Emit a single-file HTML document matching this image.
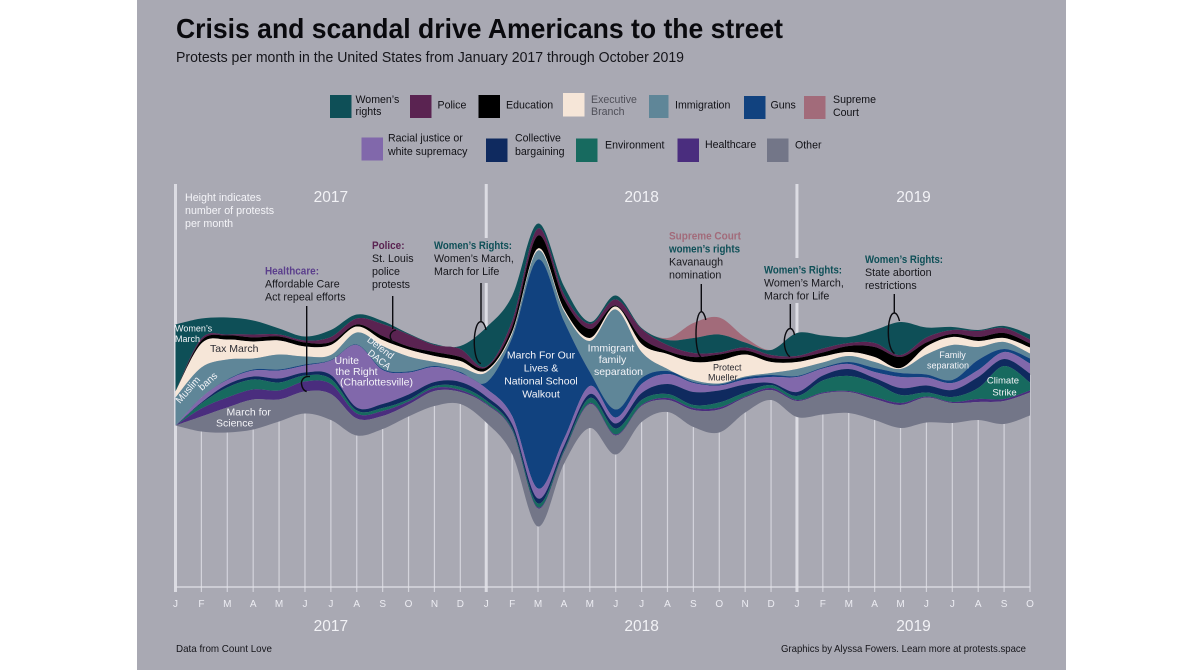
<!DOCTYPE html>
<html lang="en">
<head>
<meta charset="utf-8">
<title>Crisis and scandal drive Americans to the street</title>
<style>
html,body{margin:0;padding:0;background:#fff;width:1200px;height:670px;overflow:hidden}
svg{display:block;font-family:"Liberation Sans",sans-serif}
.w{fill:#f4f4f8}
.d{fill:#17171c}
.n{font-size:11px;fill:#111116}
.b{font-weight:bold}
.t{font-size:10.600px;fill:#111116}
</style>
</head>
<body>
<svg id="chart" width="1200" height="670" viewBox="0 0 1200 670" xmlns="http://www.w3.org/2000/svg">
  <rect x="137" y="0" width="929" height="670" fill="#a9a9b3"/>
  <text x="176" y="38" font-size="27.500" font-weight="bold" fill="#0a0a0e" textLength="607" lengthAdjust="spacingAndGlyphs">Crisis and scandal drive Americans to the street</text>
  <text x="176" y="62" font-size="14.500" fill="#15151a" textLength="508" lengthAdjust="spacingAndGlyphs">Protests per month in the United States from January 2017 through October 2019</text>

  <g>
    <g><rect x="330" y="95" width="21.500" height="23" fill="#0e4f57"/><text class="t" x="355.500" y="103">Women’s</text><text class="t" x="355.500" y="115">rights</text></g>
    <g><rect x="410" y="95" width="21.500" height="23" fill="#5a2351"/><text class="t" x="437.500" y="108.500">Police</text></g>
    <g><rect x="478.500" y="95" width="21.500" height="23" fill="#000"/><text class="t" x="506" y="108.500">Education</text></g>
    <g><rect x="563" y="93" width="21.500" height="23.500" fill="#f6e6d8"/><text class="t" x="591" y="103" style="fill:#4f4f58">Executive</text><text class="t" x="591" y="115" style="fill:#4f4f58">Branch</text></g>
    <g><rect x="649" y="95" width="19.500" height="23" fill="#5f8698"/><text class="t" x="675" y="108.500">Immigration</text></g>
    <g><rect x="744" y="96" width="21.500" height="23" fill="#11427f"/><text class="t" x="770.500" y="108.500">Guns</text></g>
    <g><rect x="804" y="96" width="21.500" height="23" fill="#a26b7a"/><text class="t" x="833" y="103">Supreme</text><text class="t" x="833" y="116">Court</text></g>
    <g><rect x="361.500" y="137.500" width="21.500" height="23" fill="#8168ab"/><text class="t" x="388" y="141.500">Racial justice or</text><text class="t" x="388" y="155">white supremacy</text></g>
    <g><rect x="486" y="138.500" width="21.500" height="23.500" fill="#0f2a5f"/><text class="t" x="515" y="141.500">Collective</text><text class="t" x="515" y="155">bargaining</text></g>
    <g><rect x="576" y="138.500" width="21.500" height="23.500" fill="#176a5f"/><text class="t" x="605" y="148.500">Environment</text></g>
    <g><rect x="677.500" y="138.500" width="21.500" height="23.500" fill="#4a2d7e"/><text class="t" x="705" y="148">Healthcare</text></g>
    <g><rect x="767" y="138.500" width="21.500" height="23.500" fill="#737688"/><text class="t" x="795" y="148.500">Other</text></g>
  </g>

  <g id="gridLayer"></g>
  <g id="streamLayer"></g>
  <g id="axisLayer"></g>

  <g font-size="10.700" class="w">
    <text x="185" y="201">Height indicates</text><text x="185" y="214">number of protests</text><text x="185" y="227">per month</text>
  </g>

  <g fill="none" stroke="#0b0b10" stroke-width="1.400">
    <path d="M306.700 306V375.500M310 376.500C303 376 301 381 301.500 384C302 388 304 391 306.700 391.500"/>
    <path d="M392.700 296V329M396 330C391 331 389.500 335 390.500 338C391.500 341 392.500 342 393.500 343"/>
    <path d="M481 283V322M486 330C485 325 483 321.500 480.700 321.700C476 322 474 335 474.300 344C474.600 354 477 363 481 363.500"/>
    <path d="M701.300 284V312M705.800 320C705 315 703 311.700 701.300 311.700C698 312 696 323 696 334C696 346 698 355 701 357"/>
    <path d="M790.300 304V328.500M794.500 335C794 331 792 328.500 790.300 328.500C787 328.500 784.300 335 784.300 342C784.300 349 787 355 790 356.700"/>
    <path d="M894.300 294V313M899.500 321C898.500 316.500 896.500 313 894.300 313C890.500 313 888.300 322 888.300 332C888.300 342 890.500 351 894.500 353.500"/>
  </g>

  <g font-size="10.700"><text x="265" y="274.500" class="b" fill="#5b3f8c" textLength="54" lengthAdjust="spacingAndGlyphs">Healthcare:</text><text x="265" y="287.500" class="d">Affordable Care</text><text x="265" y="300.500" class="d">Act repeal efforts</text></g>
  <g font-size="10.700"><text x="372" y="249" class="b" fill="#5a2351" textLength="32.500" lengthAdjust="spacingAndGlyphs">Police:</text><text x="372" y="262" class="d">St. Louis</text><text x="372" y="275" class="d">police</text><text x="372" y="288" class="d">protests</text></g>
  <g font-size="10.700"><text x="434" y="249" class="b" fill="#0e4f57" textLength="78" lengthAdjust="spacingAndGlyphs">Women’s Rights:</text><text x="434" y="262" class="d">Women’s March,</text><text x="434" y="275" class="d">March for Life</text></g>
  <g font-size="10.700"><text x="669" y="239.500" class="b" fill="#a26b7a" textLength="72" lengthAdjust="spacingAndGlyphs">Supreme Court</text><text x="669" y="252.500" class="b" fill="#0e4f57" textLength="71" lengthAdjust="spacingAndGlyphs">women’s rights</text><text x="669" y="265.500" class="d">Kavanaugh</text><text x="669" y="278.500" class="d">nomination</text></g>
  <g font-size="10.700"><text x="764" y="273.500" class="b" fill="#0e4f57" textLength="78" lengthAdjust="spacingAndGlyphs">Women’s Rights:</text><text x="764" y="286.500" class="d">Women’s March,</text><text x="764" y="299.500" class="d">March for Life</text></g>
  <g font-size="10.700"><text x="865" y="263" class="b" fill="#0e4f57" textLength="78" lengthAdjust="spacingAndGlyphs">Women’s Rights:</text><text x="865" y="276" class="d">State abortion</text><text x="865" y="289" class="d">restrictions</text></g>

  <g>
    <g font-size="9" class="w"><text x="175" y="331.500">Women’s</text><text x="175" y="342">March</text></g>
    <text x="210" y="352" font-size="10.500" fill="#2c2c33">Tax March</text>
    <text transform="translate(180,404) rotate(-49)" font-size="10" class="w">Muslim</text>
    <text transform="translate(202,391) rotate(-42)" font-size="10" class="w">bans</text>
    <g font-size="10.500" class="w"><text x="226.500" y="415.500">March for</text><text x="216" y="426.500">Science</text></g>
    <g font-size="10.500" class="w"><text x="334.500" y="364">Unite</text><text x="335.500" y="375">the Right</text><text x="340" y="385.700">(Charlottesville)</text></g>
    <text transform="translate(366.500,341) rotate(37)" font-size="9.500" class="w">Defend</text>
    <text transform="translate(367,354) rotate(38)" font-size="9.500" class="w">DACA</text>
    <g font-size="10.500" text-anchor="middle" class="w"><text x="541" y="358.500">March For Our</text><text x="541" y="371.500">Lives &amp;</text><text x="541" y="384.500">National School</text><text x="541" y="397.500">Walkout</text></g>
    <g font-size="10.500" text-anchor="middle" class="w"><text x="611" y="351.500">Immigrant</text><text x="612.500" y="363">family</text><text x="618.500" y="375">separation</text></g>
    <g font-size="9" fill="#2c2c33"><text x="713" y="370.500">Protect</text><text x="708" y="380.500">Mueller</text></g>
    <g font-size="9" text-anchor="middle" class="w"><text x="952.500" y="358">Family</text><text x="948" y="368.500">separation</text></g>
    <g font-size="9.500" text-anchor="middle" class="w"><text x="1003" y="383.500">Climate</text><text x="1004.500" y="395.500">Strike</text></g>
  </g>

  <text x="176" y="652" font-size="10.500" fill="#15151a" textLength="96" lengthAdjust="spacingAndGlyphs">Data from Count Love</text>
  <text x="781" y="652" font-size="10.500" fill="#15151a" textLength="245" lengthAdjust="spacingAndGlyphs">Graphics by Alyssa Fowers. Learn more at protests.space</text>

<script>
// Values, one per month (Jan 2017 to Oct 2019), in the chart's height units.
const monthLabels = ["J","F","M","A","M","J","J","A","S","O","N","D","J","F","M","A","M","J","J","A","S","O","N","D","J","F","M","A","M","J","J","A","S","O"];
const yearLabels = ["2017","2018","2019"];
const yearStartIndex = [0,12,24];
const yearLabelIndex = [6,18,28.5];

const supremeCourt = [0,0,0,0,0,0,0,0,0,0,0,0,0,0,0,0,0,0,0,2,15,17,5,0,0,0,0,0,0,0,0,0,0,0];
const womensRights = [67,20,17,14,6,4,7,4,3,1,1,3,39,25,5,8,2,4,1,5,15,18,5,5,23,13,6,13,33,10,3,1,2,5];
const police = [0,2,1,3,2,2,5,6,12,12,7,8,1,6,7,5,5,6,9,6,4,2,3,3,2,4,3,4,2,5,4,6,5,4];
const education = [0,3,4,4,4,4,3,2,4,3,4,4,3,5,13,10,9,1,6,3,5,6,4,4,4,4,6,10,11,4,3,4,5,4];
const executiveBranch = [6,24,20,17,14,10,10,6,6,7,6,6,2,2,2,2,3,3,8,15,18,23,22,11,7,6,4,5,1,8,8,6,4,6];
const immigration = [28,30,20,11,15,8,5,12,23,15,4,5,10,4,9,10,31,100,26,2,2,1,1,2,7,5,6,6,4,20,35,13,7,5];
const guns = [0,0,0.5,1,1,1,0.5,0.5,1,1,1,1,6,78,229,118,14,8,6,3,1,1,2,2,1,1,2,4,4,3,3,10,3,5];
const racialJustice = [0,5,4.5,6,8,7,14.5,62.5,34,22,15,9,8,8,10,7,8,6,9,10,9,5,5,6,15,7,5,6,11,8,7,7,7,10];
const collectiveBargaining = [0,1,3,3,4,3,4,3,4,5,4,5,4,4,5,4,4,5,7,10,13,12,8,2,4,5,7,5,7,7,7,11,7,9];
const environment = [0,5,10,10,8,6,5,3,3,2,2,3,3,2,4,2,5,6,5,4,3,5,4,3,4,12,15,14,8,4,5,11,33,8];
const healthcare = [0,8,10,10,9,10,10,5,5,3,3,2,1,1,1,1,1,1,1,2,2,2,1,2,1,1,1,2,2,1,1,3,2,2];
const other = [0,15,25,30,22,22,26,17,13,12,15,12,18,23,18,11,24,19,16,12,17,23,15,10,16,21,21,21,23,25,20,18,23,23];

const layers = [
  ["supreme-court", supremeCourt, "#a26b7a"],
  ["womens-rights", womensRights, "#0e4f57"],
  ["police", police, "#5a2351"],
  ["education", education, "#000000"],
  ["executive-branch", executiveBranch, "#f6e6d8"],
  ["immigration", immigration, "#5f8698"],
  ["guns", guns, "#11427f"],
  ["racial-justice", racialJustice, "#8168ab"],
  ["collective-bargaining", collectiveBargaining, "#0f2a5f"],
  ["environment", environment, "#176a5f"],
  ["healthcare", healthcare, "#4a2d7e"],
  ["other", other, "#737688"]
];

const SVG_NS = "http://www.w3.org/2000/svg";
const X0 = 175.5, X1 = 1030, CENTER_Y = 375, AXIS_Y = 587, TICK_END = 592, YEAR_TOP = 184;
function xScale(i){ return X0 + (X1 - X0) * i / (monthLabels.length - 1); }
function heightScale(v){ return v * 1; }

function make(tag, attrs, parent){
  const el = document.createElementNS(SVG_NS, tag);
  for (const k in attrs) el.setAttribute(k, attrs[k]);
  parent.appendChild(el);
  return el;
}
function splineForward(pts){
  let d = "";
  for (let i = 0; i < pts.length - 1; i++){
    const p0 = pts[Math.max(i - 1, 0)], p1 = pts[i], p2 = pts[i + 1], p3 = pts[Math.min(i + 2, pts.length - 1)];
    const c1x = p1[0] + (p2[0] - p0[0]) / 6, c1y = p1[1] + (p2[1] - p0[1]) / 6;
    const c2x = p2[0] - (p3[0] - p1[0]) / 6, c2y = p2[1] - (p3[1] - p1[1]) / 6;
    d += "C" + c1x.toFixed(2) + " " + c1y.toFixed(2) + " " + c2x.toFixed(2) + " " + c2y.toFixed(2) + " " + p2[0].toFixed(2) + " " + p2[1].toFixed(2);
  }
  return d;
}

const gridLayer = document.getElementById("gridLayer");
const streamLayer = document.getElementById("streamLayer");
const axisLayer = document.getElementById("axisLayer");

// month gridlines sit behind the stream
monthLabels.forEach(function(label, i){
  const isYear = yearStartIndex.indexOf(i) >= 0;
  const line = make("line", {x1: xScale(i), x2: xScale(i), y1: isYear ? YEAR_TOP : CENTER_Y, y2: TICK_END, stroke: isYear ? "#dcdce3" : "#d4d4dc", "stroke-width": isYear ? 3 : 1.2}, gridLayer);
  
  
});
// the year rules break behind the annotation text
[[12, 238, 45], [24, 258, 45]].forEach(function(g){
  const gap = make("rect", {x: xScale(g[0]) - 3, y: g[1], width: 6, height: g[2], fill: "#a9a9b3"}, gridLayer);
  
  
});

// stream layers, stacked around the chart's centre line
const totals = monthLabels.map(function(_, i){
  return layers.reduce(function(sum, l){ return sum + l[1][i]; }, 0);
});
const running = totals.map(function(t){ return CENTER_Y - heightScale(t) / 2; });
layers.forEach(function(l){
  const top = running.map(function(y, i){ return [xScale(i), y]; });
  const bottom = running.map(function(y, i){ return [xScale(i), y + heightScale(l[1][i])]; });
  running.forEach(function(y, i){ running[i] = y + heightScale(l[1][i]); });
  const back = bottom.slice().reverse();
  const d = "M" + top[0][0] + " " + top[0][1] + splineForward(top) + "L" + back[0][0] + " " + back[0][1] + splineForward(back) + "Z";
  const path = make("path", {d: d, fill: l[2]}, streamLayer);
  
  
});

// x axis
const axisLine = make("line", {x1: X0, x2: X1, y1: AXIS_Y, y2: AXIS_Y, stroke: "#e2e2e8", "stroke-width": 1.3}, axisLayer);


monthLabels.forEach(function(label, i){
  const t = make("text", {x: xScale(i), y: 607, "text-anchor": "middle", "font-size": 10, fill: "#ececf2"}, axisLayer);
  t.textContent = label;
  
  
});
yearLabels.forEach(function(label, i){
  [202, 631].forEach(function(y){
    const t = make("text", {x: xScale(yearLabelIndex[i]), y: y, "text-anchor": "middle", "font-size": 15.5, fill: "#f2f2f6"}, axisLayer);
    t.textContent = label;
    
    
  });
});
</script>
</svg>
</body>
</html>
